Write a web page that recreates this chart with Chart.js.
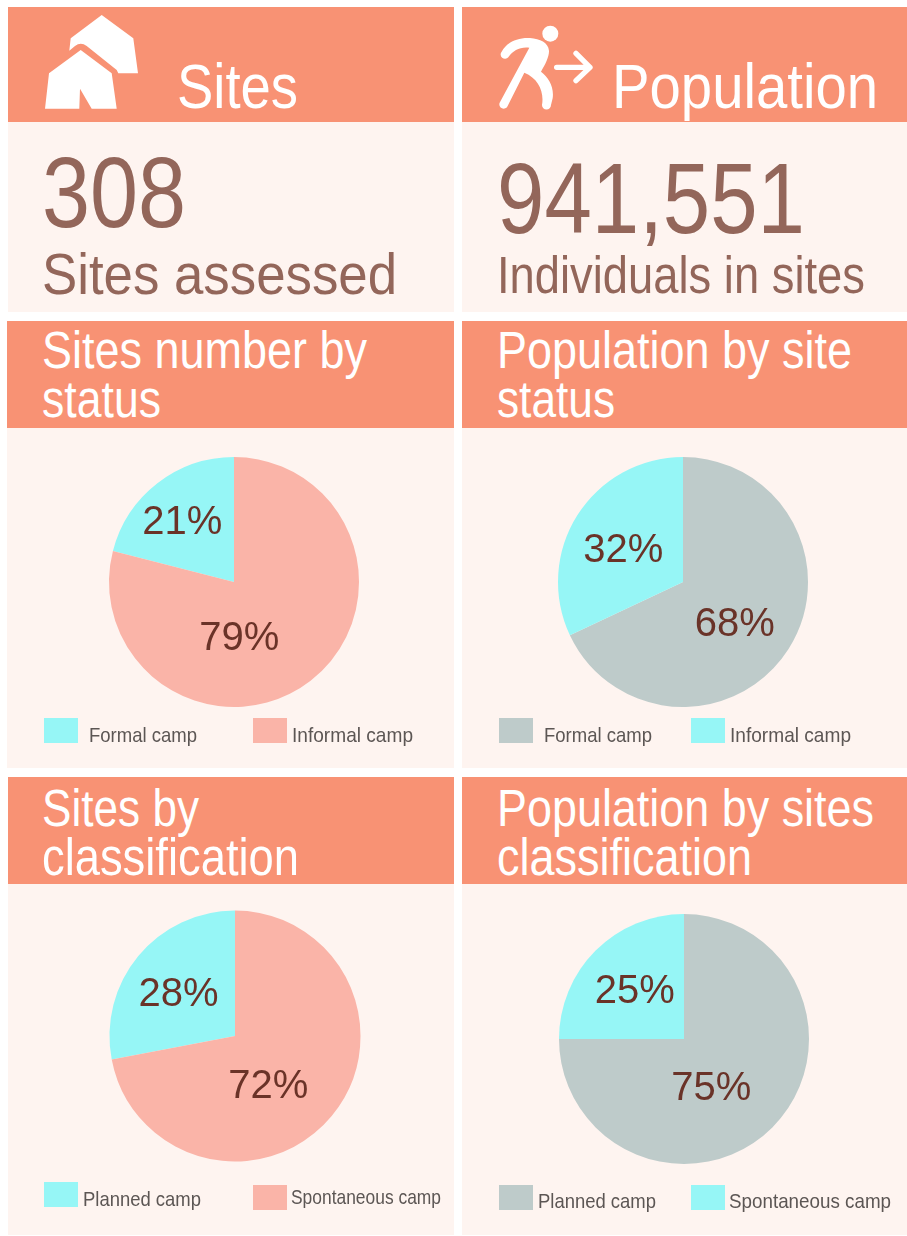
<!DOCTYPE html>
<html><head><meta charset="utf-8">
<style>
html,body{margin:0;padding:0;background:#fff;width:907px;height:1236px;overflow:hidden}
.box{position:absolute}
.h{background:#F89274}
.p{background:#FEF4F0}
.t{position:absolute;white-space:nowrap;font-family:"Liberation Sans",sans-serif;line-height:1;transform-origin:0 50%}
.w{color:#fff}
.b{color:#93665A}
canvas{position:absolute}
svg{position:absolute;left:0;top:0}
</style>
<script src="https://cdn.jsdelivr.net/npm/chart.js@4"></script>
</head><body>
<div id="root"></div>
<svg width="907" height="130" viewBox="0 0 907 130" style="z-index:3">
 <g fill="#fff">
  <path d="M101.7 15 L133.3 38.3 L138 73.3 L118.3 73.3 L116.7 70 L86.7 46 Q80.7 41.5 75 46 L69.3 50.7 L70.7 38.3 Z"/>
  <path d="M80.7 50 L111.7 73.3 L116.7 108.7 L91.7 108.7 L80 88.7 L79.3 108.7 L45 108.7 L49 73.3 Z"/>
 </g>
 <g transform="translate(495,20) scale(0.3333)">
  <circle cx="166" cy="41" r="24" fill="#fff"/>
  <path fill="#fff" d="M20 95 C35 68 65 52 105 54 C135 56 160 68 162 92 C163 110 150 135 138 155 C160 172 178 200 173 235 L168 255 A13.5 13.5 0 0 1 141 255 C148 215 130 175 88 158 L38 258 A13 13 0 0 1 14 248 L103 83 C75 80 55 90 40 112 A12 12 0 0 1 20 95 Z"/>
  <path fill="none" stroke="#fff" stroke-width="16" stroke-linecap="round" stroke-linejoin="round" d="M185 142 L285 142 M243 100 L285 142 L243 182"/>
 </g>
</svg>
<script>
// ---- data ----
const statusLabels = ["Formal camp", "Informal camp"];
const classLabels = ["Planned camp", "Spontaneous camp"];
const sitesByStatus = [21, 79];
const popByStatus = [68, 32];
const sitesByClass = [28, 72];
const popByClass = [75, 25];
const pieColorsSites = ["#96F6F6", "#FAB4A8"];
const pieColorsPop = ["#BECBCA", "#96F6F6"];

const root = document.getElementById('root');
function box(cls,x,y,w,h){const d=document.createElement('div');d.className='box '+cls;
 d.style.cssText=`left:${x}px;top:${y}px;width:${w}px;height:${h}px`;root.appendChild(d);}
function text(str,cls,x,base,size,target){const d=document.createElement('div');d.className='t '+cls;d.textContent=str;
 d.style.cssText=`left:${x}px;top:${base-size*0.8465}px;font-size:${size}px;z-index:2`;root.appendChild(d);
 const w=d.getBoundingClientRect().width;d.style.transform=`scaleX(${target/w})`;}

box('h',8,7,446,115);box('h',462,7,445,115);
box('p',8,122,446,190);box('p',462,122,445,190);
box('h',7,321,447,107);box('h',462,321,445,107);
box('p',7,428,447,340);box('p',462,428,445,340);
box('h',8,777,446,107);box('h',462,777,445,107);
box('p',8,884,446,351);box('p',462,884,445,351);

text('Sites','w',177,108,63,121);
text('Population','w',612,108,63,266);
text('308','b',42,227,100,144);
text('941,551','b',497,233,100,308);
text('Sites assessed','b',42,294,58,355);
text('Individuals in sites','b',497,293,51,368);
text('Sites number by','w',42,368,51,325);
text('status','w',42,417,51,119);
text('Population by site','w',497,368,51,355);
text('status','w',497,417,51,118);
text('Sites by','w',42,826,51,157);
text('classification','w',42,875,51,257);
text('Population by sites','w',497,826,51,377);
text('classification','w',497,875,51,255);

const labelPlugin = {id:'panelText',afterDraw(c){
 const o=c.options.plugins.panelText, x=c.ctx, ds=c.data.datasets[0], arcs=c.getDatasetMeta(0).data;
 x.save();x.textBaseline='middle';x.textAlign='center';x.fillStyle='#6A3328';x.font='40px "Liberation Sans"';
 arcs.forEach((a,i)=>{const p=a.tooltipPosition();x.fillText(ds.data[i]+'%',p.x+o.off[i][0],p.y+o.off[i][1]);});
 x.textAlign='left';x.textBaseline='alphabetic';x.font='21px "Liberation Sans"';
 c.data.labels.forEach((l,i)=>{const g=o.leg[i];
  x.fillStyle=ds.backgroundColor[i];x.fillRect(g[0],g[1],34,25);
  x.fillStyle='#5C5654';x.fillText(l,g[2],g[3],g[4]);});
 x.restore();
}};
function pie(px,py,pw,ph,cx,cy,r,rot,labels,data,colors,off,leg){
 const cv=document.createElement('canvas');cv.width=pw;cv.height=ph;
 cv.style.cssText=`left:${px}px;top:${py}px;width:${pw}px;height:${ph}px;z-index:2`;root.appendChild(cv);
 new Chart(cv,{type:'pie',plugins:[labelPlugin],data:{labels,datasets:[{data,backgroundColor:colors,borderWidth:0}]},
  options:{responsive:false,animation:false,rotation:rot,
   layout:{padding:{left:cx-r-px,right:px+pw-cx-r,top:cy-r-py,bottom:py+ph-cy-r}},
   plugins:{legend:{display:false},tooltip:{enabled:false},
    panelText:{off,leg:leg.map(g=>[g[0]-px,g[1]-py,g[2]-px,g[3]-py,g[4]])}}}});
}
pie(7,428,447,340,234,582,125,-75.6,statusLabels,sitesByStatus,pieColorsSites,
 [[-13.5,-10],[-33,8]],[[44,718,89,742,108],[253,718,292,742,121]]);
pie(462,428,445,340,683,582,125,0,statusLabels,popByStatus,pieColorsPop,
 [[-1,9],[-7,2]],[[499,718,544,742,108],[691,718,730,742,121]]);
pie(8,884,446,351,235,1036,125.5,-100.8,classLabels,sitesByClass,pieColorsSites,
 [[-8,-1],[-15,11]],[[44,1182,83,1206,118],[253,1185,291,1204,150]]);
pie(462,884,445,351,684,1039,125,0,classLabels,popByClass,pieColorsPop,
 [[-17,6],[-5,-3]],[[499,1185,538,1208,118],[691,1185,729,1208,162]]);
</script>
</body></html>
